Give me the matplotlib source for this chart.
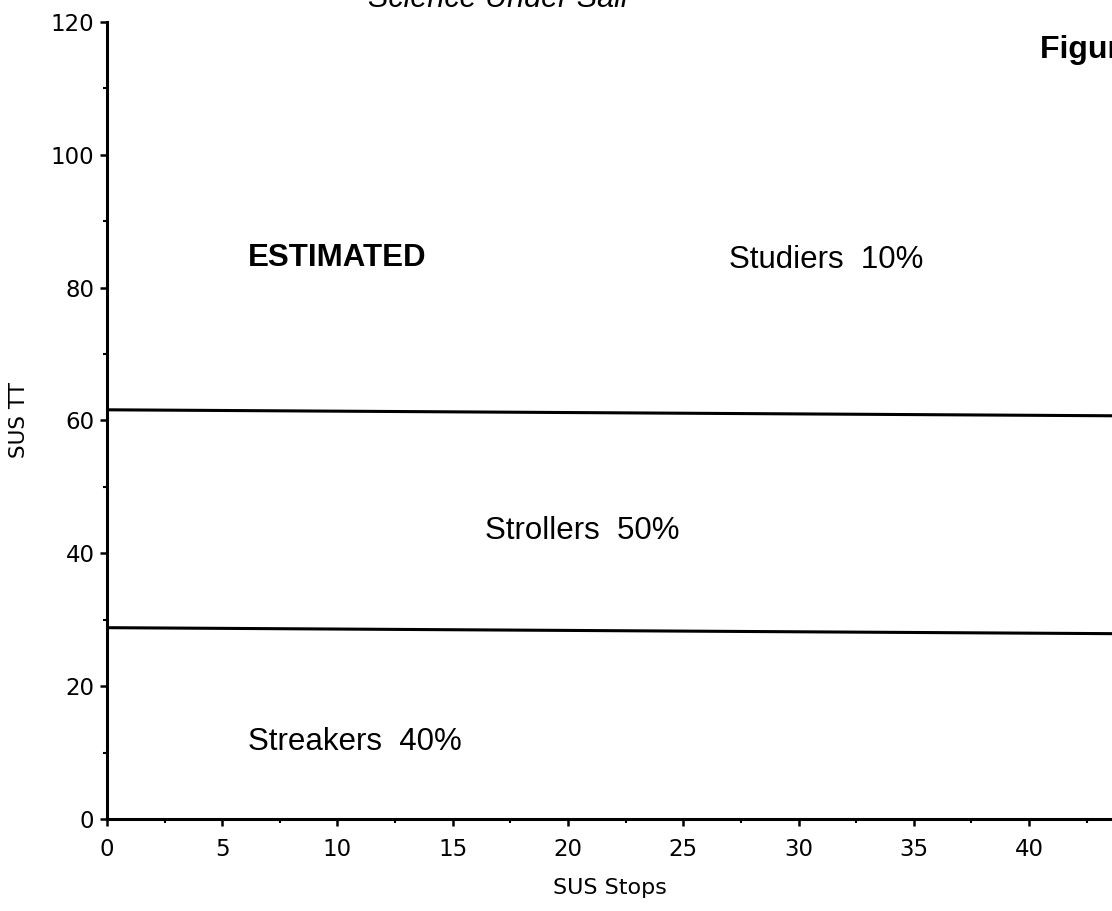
import matplotlib
matplotlib.use("Agg")
import matplotlib.pyplot as plt
from matplotlib.ticker import MultipleLocator

# boundary lines between the visitor groups (SUS Stops vs SUS TT)
line_x = [0, 43.6]
upper_y = [61.6, 60.7]
lower_y = [28.8, 27.9]

# group labels and their positions
group_labels = ["Studiers  10%", "Strollers  50%", "Streakers  40%"]
group_x = [27.0, 16.4, 6.1]
group_y = [84.2, 43.4, 11.6]

x_ticks = [0, 5, 10, 15, 20, 25, 30, 35, 40]
y_ticks = [0, 20, 40, 60, 80, 100, 120]

fig = plt.figure(figsize=(11.12, 9.11), dpi=100)
ax = fig.add_axes([0.0962, 0.101, 0.9038, 0.875])

ax.plot(line_x, upper_y, color="black", lw=2.2, solid_capstyle="butt")
ax.plot(line_x, lower_y, color="black", lw=2.2, solid_capstyle="butt")

ax.set_xlim(0, 43.6)
ax.set_ylim(0, 120)
ax.set_xticks(x_ticks)
ax.set_yticks(y_ticks)
ax.xaxis.set_minor_locator(MultipleLocator(2.5))
ax.yaxis.set_minor_locator(MultipleLocator(10))

for s in ["top", "right"]:
    ax.spines[s].set_visible(False)
for s in ["left", "bottom"]:
    ax.spines[s].set_linewidth(2.2)

ax.tick_params(which="major", direction="out", length=5, width=1.8,
               labelsize=16.5, pad=4)
ax.tick_params(which="minor", direction="out", length=3, width=1.5)
ax.tick_params(axis="x", which="major", pad=9)

ax.set_xlabel("SUS Stops", fontsize=16, labelpad=12)
ax.set_ylabel("SUS TT", fontsize=15.5, labelpad=16)

for lab, gx, gy in zip(group_labels, group_x, group_y):
    ax.text(gx, gy, lab, fontsize=22.5, family="Liberation Sans",
            ha="left", va="center")

ax.text(6.1, 84.5, "ESTIMATED", fontsize=22.5, family="Liberation Sans",
        fontweight="bold", ha="left", va="center")

fig.text(0.331, 0.992, "Science Under Sail", fontsize=22,
         family="Liberation Sans", style="italic", ha="left", va="baseline")
fig.text(0.935, 0.936, "Figure 1", fontsize=23, family="Liberation Sans",
         fontweight="bold", ha="left", va="baseline")

fig.savefig("out.png", dpi=100)
